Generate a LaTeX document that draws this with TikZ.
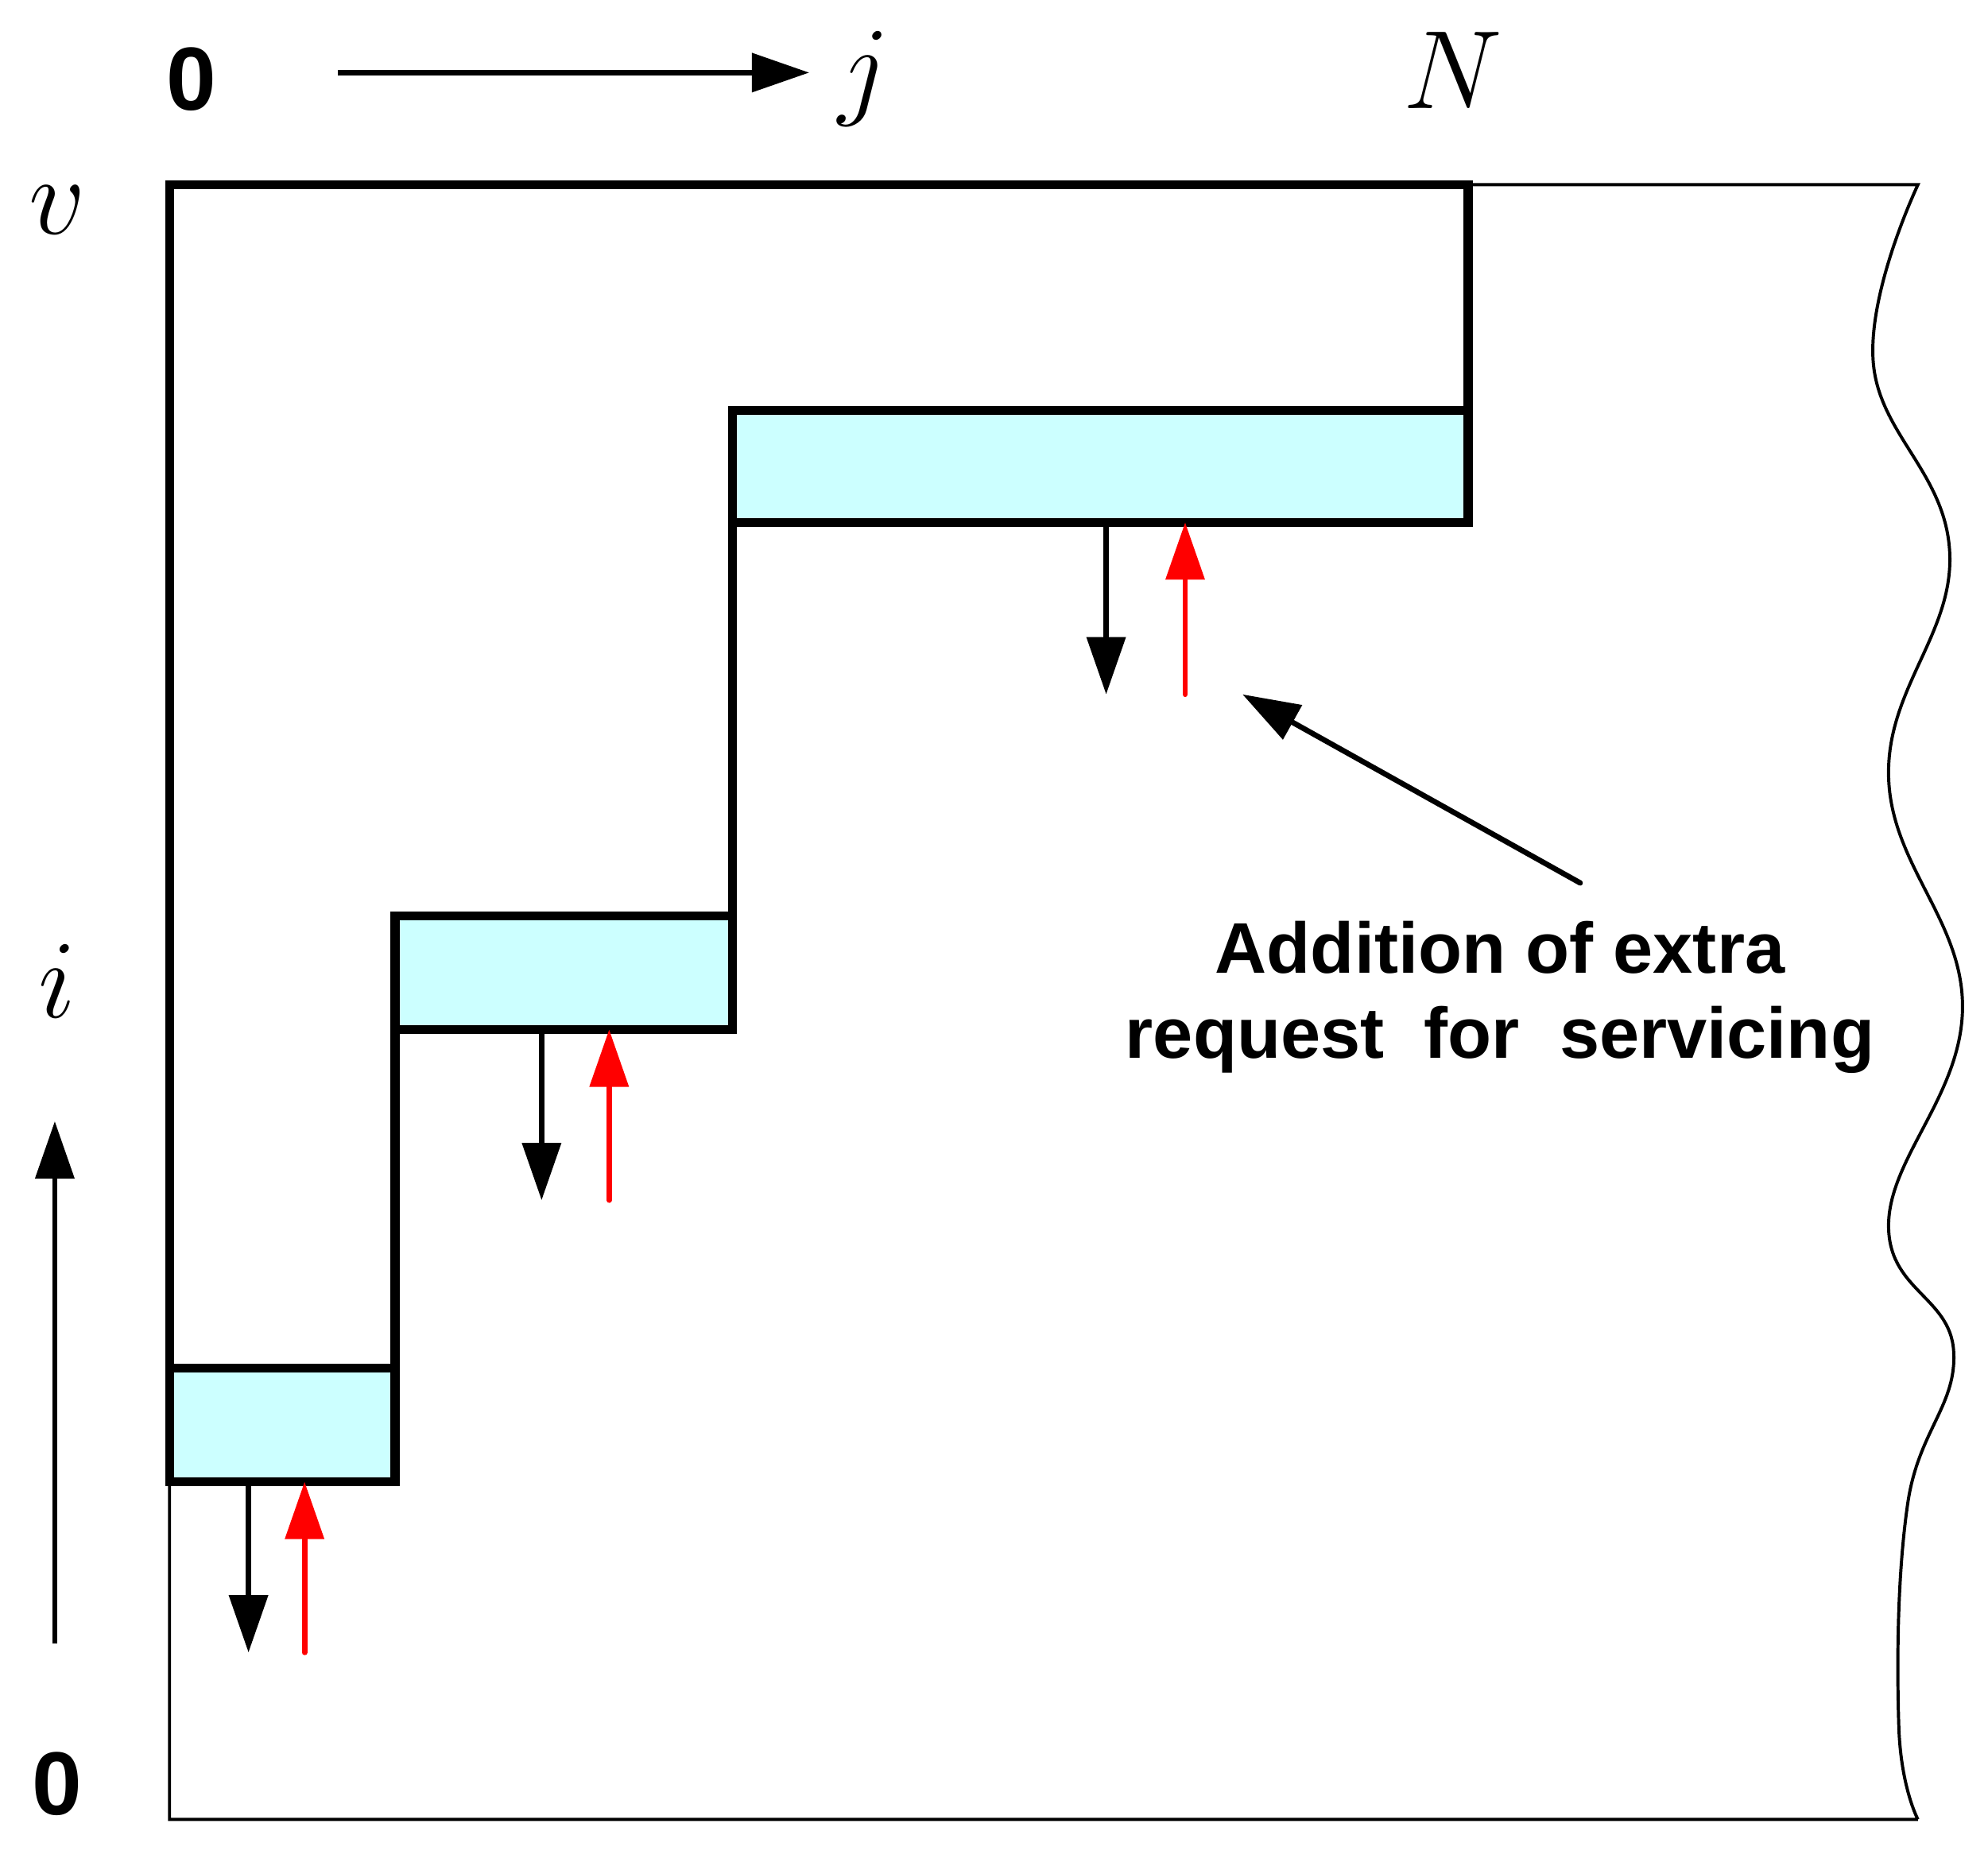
\documentclass[tikz,border=0pt]{standalone}
\usepackage{fontspec}
\setsansfont{Liberation Sans}
\usetikzlibrary{positioning, calc, arrows.meta}
\definecolor{boxcyan}{RGB}{204,255,255}

\begin{document}
\begin{tikzpicture}[x=0.01cm, y=-0.01cm,
  thickline/.style={line width=2pt, line join=miter},
  thinline/.style={line width=0.7pt},
  slot/.style={thickline, fill=boxcyan},
  outflow/.style={line width=1.2pt, -{Triangle[length=0.45cm, width=0.3cm]}},
  inflow/.style={outflow, red, line cap=round},
  axisarrow/.style={line width=1.2pt, -{Triangle[length=0.45cm, width=0.3cm]}},
  numlabel/.style={font=\sffamily\bfseries\fontsize{20}{24}\selectfont},
  mathlabel/.style={font=\fontsize{28}{32}\selectfont},
  note/.style={font=\sffamily\bfseries\fontsize{16}{19}\selectfont, align=center}
]
    \useasboundingbox (0,0) rectangle (1560,1464);

    % Outer thin frame with wavy right side
    \draw[thinline] (133,1163) -- (133,1428) -- (1505,1428)
      plot[smooth, tension=0.7] coordinates {(1505,1428) (1490,1355) (1497,1180) (1533,1060) (1482,960) (1540,790) (1482,610) (1530,435) (1470,285) (1505,145)}
      -- (1152,145);

    % Blue slots
    \draw[slot] (575,322) rectangle (1152,410);
    \draw[slot] (310,719) rectangle (575,808);
    \draw[slot] (133,1074) rectangle (310,1163);

    % Thick staircase
    \draw[thickline] (133,1163) -- (133,145) -- (1152,145) -- (1152,410);
    \draw[thickline] (575,322) -- (575,719);
    \draw[thickline] (310,808) -- (310,1074);
    \draw[thickline] (133,1163) -- (310,1163);

    % Flow arrows
    \coordinate (o1a) at (868,410);  \coordinate (o1b) at (868,545);
    \coordinate (r1a) at (930,545);  \coordinate (r1b) at (930,410);
    \coordinate (o2a) at (425,808);  \coordinate (o2b) at (425,942);
    \coordinate (r2a) at (478,942);  \coordinate (r2b) at (478,808);
    \coordinate (o3a) at (195,1163); \coordinate (o3b) at (195,1297);
    \coordinate (r3a) at (239,1297); \coordinate (r3b) at (239,1163);
    \draw[outflow] (o1a) -- (o1b);
    \draw[inflow] (r1a) -- (r1b);
    \draw[outflow] (o2a) -- (o2b);
    \draw[inflow] (r2a) -- (r2b);
    \draw[outflow] (o3a) -- (o3b);
    \draw[inflow] (r3a) -- (r3b);

    % Axis labels
    \node[numlabel] (zeroj) at (150,62) {0};
    \node[mathlabel] (jlab) at (678,62) {$j$};
    \node[mathlabel] (Nlab) at (1140,55) {$N$};
    \node[mathlabel] (vlab) at (45,165) {$v$};
    \node[mathlabel] (ilab) at (45,770) {$i$};
    \node[numlabel] (zeroi) at (45,1400) {0};
    \coordinate (ja) at (265,57);  \coordinate (jb) at (635,57);
    \coordinate (ia) at (43,1290); \coordinate (ib) at (43,880);
    \draw[axisarrow] (ja) -- (jb);
    \draw[axisarrow] (ia) -- (ib);

    % Annotation
    \node[note] (notetxt) at (1177,783) {Addition of extra\\request\ \ for\ \ servicing};
    \coordinate (na) at (1240,693); \coordinate (nb) at (975,545);
    \draw[axisarrow, line cap=round] (na) -- (nb);
\end{tikzpicture}
\end{document}
